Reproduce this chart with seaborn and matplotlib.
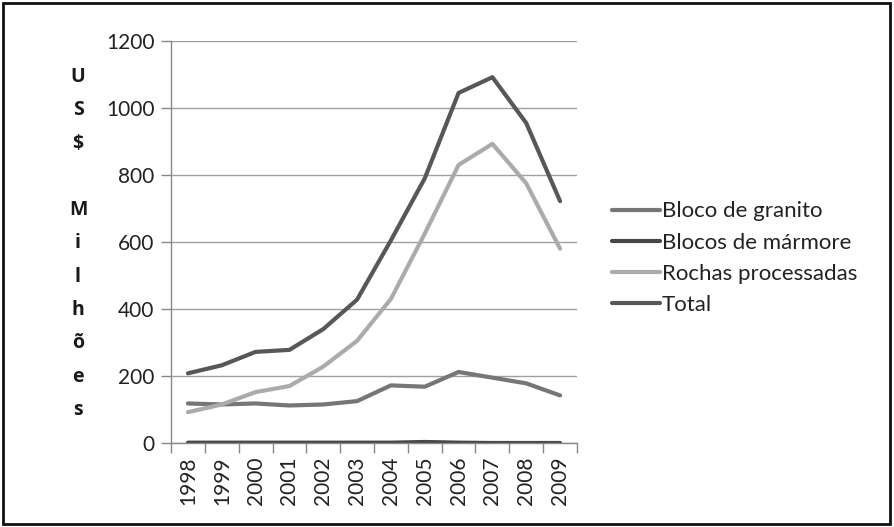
import numpy as np
import pandas as pd
import seaborn as sns
import matplotlib.pyplot as plt
from matplotlib.patches import Rectangle
from matplotlib.ticker import FixedLocator

sns.set_style("white")
plt.rcParams['font.family'] = ['Lato', 'DejaVu Sans']

# Data (US$ milhões)
anos = [1998, 1999, 2000, 2001, 2002, 2003, 2004, 2005, 2006, 2007, 2008, 2009]
bloco_granito = [118, 115, 118, 112, 115, 125, 172, 168, 212, 195, 178, 142]
blocos_marmore = [1, 1, 1, 1, 1, 1, 1, 3, 1, 0, 0, 0]
rochas_processadas = [92, 115, 152, 170, 228, 305, 430, 625, 830, 893, 775, 580]
total = [208, 232, 272, 278, 340, 428, 605, 790, 1045, 1092, 955, 722]

series = ["Bloco de granito", "Blocos de mármore", "Rochas processadas", "Total"]
cores = ["#767676", "#474747", "#ababab", "#575757"]

df = pd.DataFrame({
    "ano": anos * 4,
    "valor": bloco_granito + blocos_marmore + rochas_processadas + total,
    "serie": sum([[s] * len(anos) for s in series], []),
})

fig = plt.figure(figsize=(8.94, 5.27), dpi=100)
ax = fig.add_axes([0.1913, 0.1594, 0.4541, 0.7628])

sns.lineplot(data=df, x="ano", y="valor", hue="serie", hue_order=series,
             palette=cores, linewidth=3, ax=ax, legend=True)

ax.set_xlim(1997.5, 2009.5)
ax.set_ylim(0, 1200)
ax.set_yticks(range(0, 1201, 200))
ax.set_xticks(anos)
ax.set_xticklabels([str(a) for a in anos], rotation=90)
ax.xaxis.set_minor_locator(FixedLocator(np.arange(1997.5, 2010, 1)))
ax.tick_params(axis="x", which="major", length=0, labelsize=15, pad=10, colors="#222222")
ax.tick_params(axis="x", which="minor", length=7, width=1, color="#888888", direction="out", bottom=True)
ax.tick_params(axis="y", which="major", length=7, width=1, color="#888888", direction="out",
               left=True, labelsize=15, pad=5, labelcolor="#222222")
ax.yaxis.grid(True, color="#a0a0a0", linewidth=1)
ax.xaxis.grid(False)
ax.set_xlabel("")
ax.set_ylabel("")
for s in ["top", "right"]:
    ax.spines[s].set_visible(False)
for s in ["left", "bottom"]:
    ax.spines[s].set_color("#888888")
    ax.spines[s].set_linewidth(1)

leg = ax.legend(loc="center left", bbox_to_anchor=(1.086, 0.46), frameon=False,
                fontsize=16, handlelength=2.15, handletextpad=0.1, labelspacing=0.5,
                borderpad=0, borderaxespad=0)
for line in leg.get_lines():
    line.set_linewidth(3)
for t in leg.get_texts():
    t.set_color("#222222")

# vertical stacked y label
letras = ["U", "S", "$", "", "M", "i", "l", "h", "õ", "e", "s"]
for i, ch in enumerate(letras):
    fig.text(78 / 894, 1 - (77 + i * 33.3) / 527, ch, ha="center", va="center",
             fontsize=14, fontweight="bold", color="#1a1a1a",
             family=["Open Sans", "DejaVu Sans"])

fig.patches.append(Rectangle((0.003, 0.005), 0.993, 0.99, transform=fig.transFigure,
                             fill=False, edgecolor="#111111", linewidth=2))

fig.savefig("out.png", dpi=100)
